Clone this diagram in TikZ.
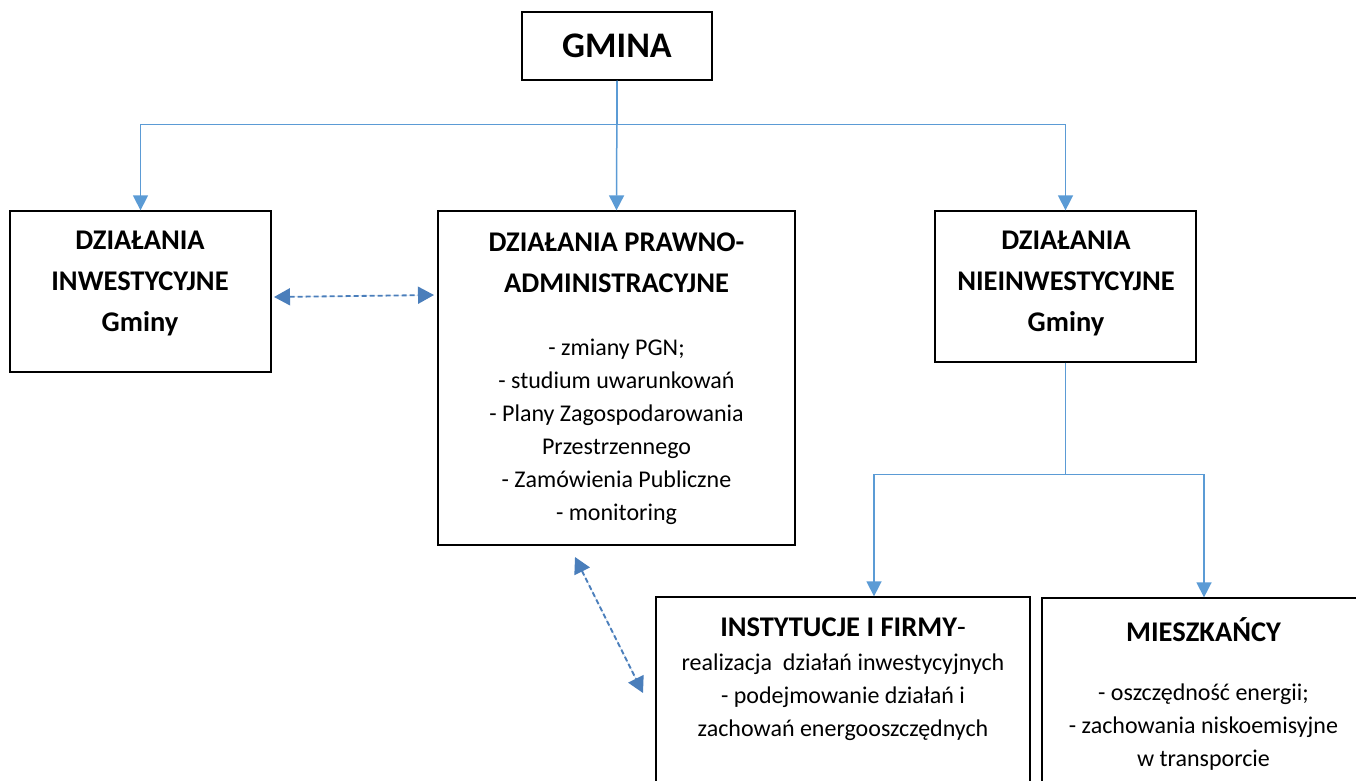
\documentclass[tikz,border=0pt]{standalone}
\usepackage{fontspec}
\setmainfont{Carlito}
\usepackage{tikz}
\usetikzlibrary{arrows.meta,positioning}
\definecolor{linkblue}{HTML}{5B9BD5}
\definecolor{dashblue}{HTML}{4A7EBB}
\tikzstyle{box}=[draw=black,line width=1.3pt,inner sep=0pt]
\tikzstyle{title}=[font=\fontsize{28.5}{41}\selectfont\bfseries,align=center,inner sep=0pt]
\tikzstyle{body}=[font=\fontsize{24}{33}\selectfont,align=center,inner sep=0pt]
\tikzstyle{link}=[draw=linkblue,line width=1.5pt]
\tikzstyle{arrow}=[link,-{Triangle[width=15pt,length=15pt]}]
\tikzstyle{dasharrow}=[draw=dashblue,fill=dashblue,line width=1.8pt,dash pattern=on 5pt off 3pt,
  {Triangle[width=17pt,length=16pt]}-{Triangle[width=17pt,length=16pt]}]

\begin{document}
\begin{tikzpicture}[x=1pt,y=-1pt]
    \useasboundingbox (0,0) rectangle (1356,780);
    % boxes
    \foreach \pos/\name/\w/\h in {{(617,46)/gmina/190/68}, {(140.5,291.5)/inw/261/161},
        {(616.5,378)/praw/357/334}, {(1065.5,286.5)/nie/261/151},
        {(843,698.5)/inst/374/203}, {(1204,699)/mie/324/202}}
        \node[box,minimum width=\w pt,minimum height=\h pt] (\name) at \pos {};
    % texts
    \node[title,font=\fontsize{36}{40}\selectfont\bfseries] (gminatxt) at (gmina) {GMINA};
    \node[title] (inwtxt) at (140,283.5) {DZIAŁANIA\\INWESTYCYJNE\\Gminy};
    \node[title] (prawtxt) at (616.5,262.5) {DZIAŁANIA PRAWNO-\\ADMINISTRACYJNE};
    \node[body] (prawbody) at (616.5,432) {- zmiany PGN;\\- studium uwarunkowań\\- Plany Zagospodarowania\\Przestrzennego\\- Zamówienia Publiczne\\- monitoring};
    \node[title] (nietxt) at (1066,283.5) {DZIAŁANIA\\NIEINWESTYCYJNE\\Gminy};
    \node[title] (insttxt) at (843,627) {INSTYTUCJE I FIRMY\normalfont -};
    \node[body] (instbody) at (843,697) {realizacja \ działań inwestycyjnych\\- podejmowanie działań i\\zachowań energooszczędnych};
    \node[title] (mietxt) at (1203.5,630) {MIESZKAŃCY};
    \node[body] (miebody) at (1203.5,727) {- oszczędność energii;\\- zachowania niskoemisyjne\\w transporcie};
    % connectors
    \path[arrow] (gmina.south) -- (praw.north);
    \path[arrow] (gmina.south) -- ++(0,44) -| (inw.north);
    \path[arrow] (gmina.south) -- ++(0,44) -| (nie.north);
    \path[arrow] (nie.south) -- ++(0,112) -| ([xshift=31pt]inst.north);
    \path[arrow] (nie.south) -- ++(0,112) -| (mie.north);
    % dashed links
    \coordinate (d1) at (274,297);
    \coordinate (d2) at (434,295);
    \coordinate (d3) at (575,557);
    \coordinate (d4) at (643,693);
    \path[dasharrow] (d1) -- (d2);
    \path[dasharrow] (d3) -- (d4);
\end{tikzpicture}
\end{document}
